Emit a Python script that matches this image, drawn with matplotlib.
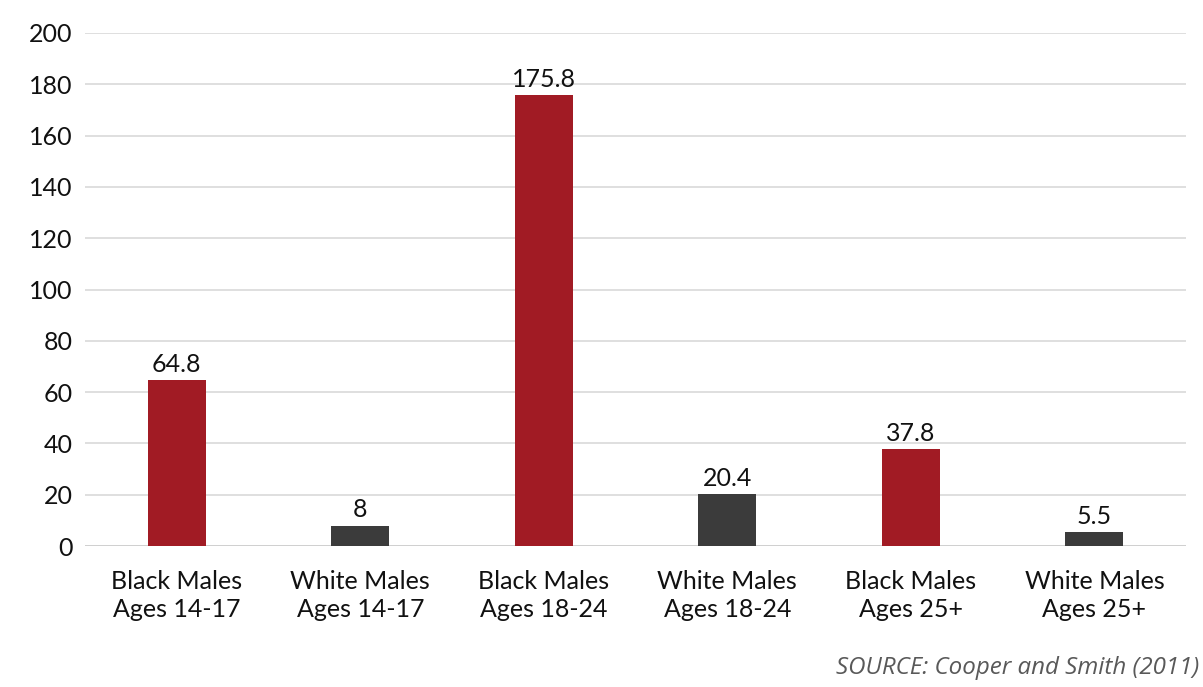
import matplotlib.pyplot as plt

categories = [
    "Black Males\nAges 14-17",
    "White Males\nAges 14-17",
    "Black Males\nAges 18-24",
    "White Males\nAges 18-24",
    "Black Males\nAges 25+",
    "White Males\nAges 25+",
]
values = [64.8, 8, 175.8, 20.4, 37.8, 5.5]
value_labels = ["64.8", "8", "175.8", "20.4", "37.8", "5.5"]
y_ticks = [0, 20, 40, 60, 80, 100, 120, 140, 160, 180, 200]

RED = "#A11B24"
DARK = "#3B3B3B"
colors = [RED, DARK, RED, DARK, RED, DARK]

plt.rcParams["font.family"] = ["Lato", "DejaVu Sans"]

fig = plt.figure(figsize=(12.03, 6.87), dpi=100)
ax = fig.add_axes([0.0707, 0.2052, 0.9153, 0.7468])

x = list(range(len(categories)))
bars = ax.bar(x, values, width=0.316, color=colors, zorder=3)

for bar, lab in zip(bars, value_labels):
    ax.annotate(lab, (bar.get_x() + bar.get_width() / 2, bar.get_height()),
                xytext=(0, 3), textcoords="offset points",
                ha="center", va="bottom", fontsize=18, color="#111111")

ax.set_xlim(-0.5, len(categories) - 0.5)
ax.set_ylim(0, 200)
ax.set_yticks(y_ticks)
ax.set_yticklabels([str(t) for t in y_ticks], fontsize=18, color="#111111")
ax.set_xticks(x)
ax.set_xticklabels(categories, fontsize=18, color="#111111", linespacing=1.3)
ax.tick_params(axis="both", length=0)
ax.tick_params(axis="x", pad=17)
ax.tick_params(axis="y", pad=9)

ax.grid(axis="y", color="#D9D9D9", linewidth=1.2, zorder=0)
ax.set_axisbelow(True)
for s in ax.spines.values():
    s.set_visible(False)
ax.axhline(0, color="#D0D0D0", linewidth=1.4, zorder=2)

fig.text(0.997, 0.028, "SOURCE: Cooper and Smith (2011)", ha="right", va="center",
         fontsize=17.4, style="italic", color="#595959",
         family=["Open Sans", "DejaVu Sans"])

fig.savefig("out.png", dpi=100, facecolor="white")
